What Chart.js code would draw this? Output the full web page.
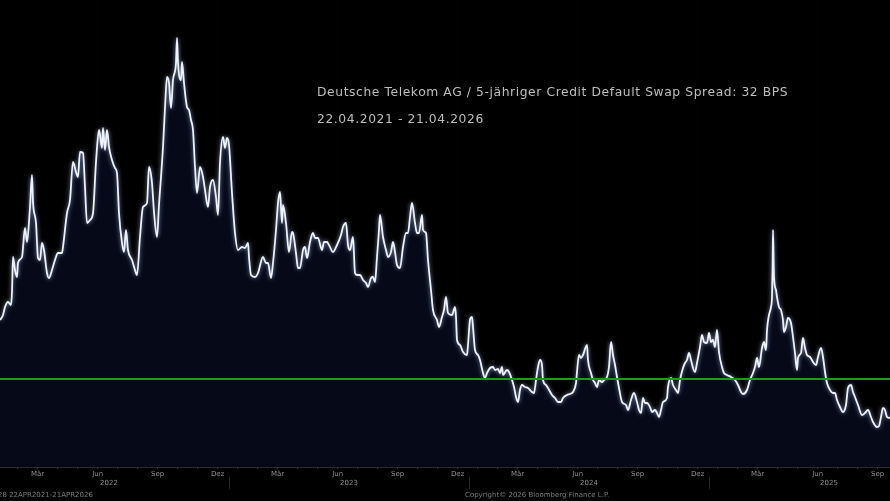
<!DOCTYPE html>
<html>
<head>
<meta charset="utf-8">
<script src="https://cdn.jsdelivr.net/npm/chart.js@4.4.1/dist/chart.umd.min.js"></script>
<style>
  html, body { margin: 0; padding: 0; background: #000; }
  #wrap { width: 890px; height: 501px; position: relative; background: #000; }
  canvas { display: block; }
</style>
</head>
<body>
<div id="wrap"><canvas id="c" width="890" height="501"></canvas></div>
<script>
// ---- Data (x = months since 1 Jan 2022, y = spread in bps) ----
const monthsA = [0.55,0.70,0.80,0.95,1.10,1.15,1.20,1.30,1.40,1.45,
  1.65,1.80,1.90,2.05,2.15,2.20,2.35,2.45,2.55,2.65,
  2.75,2.90,3.00,3.15,3.30,3.45,3.65,3.70,3.90,4.05,
  4.20,4.35,4.45,4.55,4.70,4.80,4.90,5.05,5.20,5.35,
  5.50,5.65,5.70,5.80,5.90,6.00,6.15,6.30,6.40,6.50,
  6.65,6.75,6.85,6.95,7.15,7.30,7.40,7.55,7.70,7.90,
  8.00,8.15,8.25,8.40,8.50];
const spreadA = [43.8,44.8,46.4,47.4,46.8,49.4,56.4,53.8,52.4,55.2,
  56.4,62.2,59.4,66.4,72.8,67.4,63.2,56.2,55.8,59.2,
  57.8,53.2,52.2,53.8,55.8,57.2,57.2,58.4,65.2,67.8,
  75.4,73.4,72.4,77.4,77.2,70.4,63.2,63.8,65.2,75.4,
  81.8,78.2,82.2,77.8,81.8,78.4,75.8,74.2,73.2,65.2,
  59.2,57.4,61.8,57.8,55.8,53.8,52.8,60.4,66.4,67.2,
  74.4,71.2,65.4,60.4,66.8];

const monthsB = [8.70,8.80,8.90,9.00,9.10,9.20,9.35,9.40,9.45,9.60,
  9.65,9.75,9.90,10.00,10.10,10.20,10.30,10.40,10.55,10.70,
  10.80,10.95,11.05,11.20,11.35,11.45,11.55,11.70,11.80,11.90,
  12.00,12.15,12.30,12.45,12.65,12.80,12.95,13.00,13.10,13.30,
  13.45,13.70,13.85,13.95,14.10,14.20,14.35,14.45,14.55,14.65,
  14.70,14.85,15.00,15.15,15.20,15.35,15.45];
const spreadB = [78.4,86.2,92.4,91.2,86.2,91.8,95.2,100.2,95.2,91.8,
  95.4,91.2,86.4,85.8,83.8,81.8,74.4,69.2,74.4,72.4,
  69.8,66.4,70.4,71.8,68.4,64.8,75.2,80.4,78.2,80.2,
  78.8,69.2,61.2,57.8,58.4,58.2,59.2,56.4,52.8,52.4,
  53.2,56.4,55.2,55.2,52.2,55.2,61.8,67.2,69.4,63.2,
  66.8,63.2,57.4,61.4,61.2,57.2,54.2];

const monthsC = [15.55,15.70,15.80,15.90,16.05,16.20,16.30,16.45,16.65,16.75,
  16.90,17.00,17.20,17.40,17.60,17.70,17.85,17.95,18.05,18.20,
  18.30,18.40,18.55,18.70,18.85,18.95,19.10,19.20,19.30,19.40,
  19.50,19.55,19.70,19.85,19.95,20.10,20.20,20.30,20.40,20.55,
  20.70,20.85,20.95,21.05,21.15,21.30,21.40,21.50,21.65,21.70,
  21.85,21.95,22.10,22.20,22.40,22.50,22.65,22.75,22.85,22.95,
  23.15,23.30,23.35,23.40,23.55,23.70,23.90];
const spreadC = [54.2,57.8,58.4,56.2,59.4,61.2,60.2,60.2,57.8,59.4,
  59.4,58.8,57.4,58.8,60.8,62.4,63.2,58.8,57.8,60.4,
  53.2,52.8,52.8,51.8,51.2,50.4,52.2,52.4,51.4,56.4,
  61.8,64.8,60.4,57.8,56.4,57.4,59.4,57.4,54.8,54.2,
  58.4,61.2,61.2,64.4,67.2,63.2,61.2,61.2,64.8,61.8,
  61.2,55.8,49.8,45.8,43.8,42.4,44.4,45.8,48.4,45.2,
  44.8,46.4,44.4,39.8,38.8,37.4,36.8];

const monthsD = [23.95,24.05,24.15,24.20,24.30,24.45,24.55,24.70,24.80,24.90,
  25.05,25.20,25.30,25.45,25.55,25.65,25.70,25.90,26.00,26.15,
  26.25,26.35,26.45,26.55,26.65,26.80,26.95,27.15,27.25,27.35,
  27.45,27.55,27.65,27.70,27.85,27.95,28.15,28.30,28.45,28.60,
  28.70,28.90,29.05,29.20,29.35,29.40,29.50,29.60,29.70,29.90,
  29.95,30.10,30.20,30.30,30.40,30.50,30.65,30.75,30.90,31.00,
  31.10,31.20,31.30,31.40,31.50];
const spreadD = [38.8,43.8,44.4,42.4,37.8,36.8,35.8,33.2,32.2,33.2,
  34.2,34.4,33.8,34.0,33.2,34.4,32.8,33.8,33.4,31.8,
  30.4,28.4,27.4,29.8,30.8,30.4,30.2,29.4,29.2,31.8,
  34.4,35.8,34.8,31.8,30.8,30.2,28.8,28.2,27.4,27.4,
  28.2,28.8,29.0,29.4,31.2,33.4,36.8,36.2,36.8,38.8,
  35.8,33.2,31.8,31.2,30.4,31.8,31.4,31.8,32.4,34.4,
  39.4,36.8,34.8,32.4,30.2];

const monthsE = [31.65,31.85,31.95,32.10,32.25,32.40,32.50,32.60,32.70,32.80,
  32.90,33.05,33.15,33.30,33.40,33.50,33.60,33.70,33.90,33.95,
  34.10,34.20,34.35,34.45,34.55,34.70,34.80,34.90,35.00,35.10,
  35.20,35.30,35.40,35.55,35.65,35.75,35.90,36.00,36.10,36.20,
  36.30,36.40,36.50,36.65,36.75,36.90,37.10,37.30,37.45,37.60,
  37.70,37.90,38.05,38.20,38.30,38.40,38.50,38.65,38.75,38.85,
  38.90,39.00,39.10,39.15,39.18,39.20,39.25,39.35,39.40,39.50];
const spreadE = [27.4,26.8,25.8,27.8,29.2,27.4,25.8,25.2,28.2,27.2,
  27.2,26.4,25.4,25.8,25.2,24.4,25.8,27.4,28.2,30.4,
  32.2,30.8,29.8,29.2,31.8,34.2,35.2,35.8,37.2,35.8,
  34.2,33.4,35.2,38.4,40.8,39.4,39.2,41.2,39.4,39.8,
  38.4,41.8,37.4,34.4,33.2,32.8,32.4,31.8,30.8,29.4,
  29.0,29.8,31.8,33.2,34.4,36.2,34.4,38.2,39.4,37.8,
  41.8,44.8,46.4,48.4,54.4,61.8,52.4,49.8,48.4,46.4];

const monthsF = [39.60,39.70,39.75,39.85,39.95,40.10,40.20,40.30,40.40,40.45,
  40.60,40.70,40.80,40.90,41.05,41.20,41.35,41.45,41.60,41.70,
  41.80,41.90,42.05,42.20,42.30,42.40,42.55,42.70,42.85,42.95,
  43.10,43.20,43.30,43.45,43.65,43.80,43.95,44.10,44.20,44.40,
  44.50,44.60,44.70,44.80,44.90,45.05];
const spreadF = [45.8,43.8,41.4,42.4,44.2,43.2,40.4,37.2,33.8,36.2,
  37.2,40.2,38.2,36.8,36.4,35.4,34.8,36.4,38.2,36.4,
  33.4,31.2,29.8,29.2,29.2,27.8,26.4,25.4,26.8,30.2,
  30.8,29.4,28.4,26.8,24.8,25.2,25.8,24.4,23.4,22.4,
  22.6,24.4,26.2,25.8,24.4,24.2];

const referenceLevel = 32;               // green horizontal line (bps)
const monthNames = ['Jan','Feb','Mär','Apr','Mai','Jun','Jul','Aug','Sep','Okt','Nov','Dez'];
const yearLabels = ['2022','2023','2024','2025'];
const titleText = 'Deutsche Telekom AG / 5-jähriger Credit Default Swap Spread: 32 BPS';
const subtitleText = '22.04.2021 - 21.04.2026';
const footerLeft = '28 22APR2021-21APR2026';
const footerRight = 'Copyright\u00A9 2026 Bloomberg Finance L.P.';

// ---- Build series ----
const allMonths = [].concat(monthsA, monthsB, monthsC, monthsD, monthsE, monthsF);
const allSpread = [].concat(spreadA, spreadB, spreadC, spreadD, spreadE, spreadF);
const seriesPoints = allMonths.map((m, i) => ({ x: m, y: allSpread[i] }));
const X_MIN = 0.55, X_MAX = 45.05;
const refPoints = [{ x: X_MIN, y: referenceLevel }, { x: X_MAX, y: referenceLevel }];

const decoPlugin = {
  id: 'deco',
  beforeDraw(chart) {
    const ctx = chart.ctx;
    ctx.save();
    ctx.fillStyle = '#000';
    ctx.fillRect(0, 0, chart.width, chart.height);
    ctx.restore();
  },
  beforeDatasetDraw(chart, args) {
    if (args.index === 1) {
      const ctx = chart.ctx;
      ctx.save();
      ctx.shadowColor = 'rgba(170,190,240,0.8)';
      ctx.shadowBlur = 4;
    }
  },
  afterDatasetDraw(chart, args) {
    if (args.index === 1) chart.ctx.restore();
  },
  afterDraw(chart) {
    const ctx = chart.ctx;
    const xs = chart.scales.x;
    ctx.save();
    // year separators
    ctx.strokeStyle = '#262626';
    ctx.lineWidth = 1;
    yearLabels.forEach((y, i) => {
      const v = 12 * (i + 1);
      if (v > X_MIN && v < X_MAX) {
        const px = Math.round(xs.getPixelForValue(v)) + 0.5;
        ctx.beginPath();
        ctx.moveTo(px, 477);
        ctx.lineTo(px, 489);
        ctx.stroke();
      }
    });
    // titles
    ctx.fillStyle = '#bdbdbd';
    ctx.textBaseline = 'middle';
    ctx.textAlign = 'left';
    ctx.font = '12.3px "DejaVu Sans"';
    if ('letterSpacing' in ctx) ctx.letterSpacing = '0.6px';
    ctx.fillText(titleText, 317, 93);
    ctx.fillText(subtitleText, 317, 120);
    if ('letterSpacing' in ctx) ctx.letterSpacing = '0px';
    // footer
    ctx.fillStyle = '#7c7c7c';
    ctx.font = '7px "DejaVu Sans"';
    ctx.fillText(footerLeft, -2, 495);
    ctx.fillText(footerRight, 465, 495);
    ctx.restore();
  }
};

new Chart(document.getElementById('c'), {
  type: 'line',
  data: {
    datasets: [
      {
        data: refPoints,
        borderColor: '#1f9a1f',
        borderWidth: 2,
        pointRadius: 0,
        fill: false,
        order: 0
      },
      {
        data: seriesPoints,
        borderColor: '#eef2fa',
        borderWidth: 1.8,
        pointRadius: 0,
        cubicInterpolationMode: 'monotone',
        fill: 'start',
        backgroundColor: '#060a18',
        order: 1
      }
    ]
  },
  options: {
    responsive: false,
    animation: false,
    events: [],
    layout: { padding: 0 },
    plugins: { legend: { display: false }, tooltip: { enabled: false } },
    scales: {
      y: { display: false, min: 14.4, max: 107.8 },
      x: {
        type: 'linear',
        min: X_MIN,
        max: X_MAX,
        afterFit(scale) { scale.height = 34; },
        afterBuildTicks(scale) {
          const t = [];
          for (let m = 1; m <= 44; m++) {
            const isQ = (m % 3) === 2;
            t.push({ value: m + 0.43, kind: isQ ? 'q' : 'm', lbl: isQ ? monthNames[m % 12] : '' });
          }
          yearLabels.forEach((y, i) => t.push({ value: 6 + 12 * i, kind: 'y', lbl: y }));
          t.sort((a, b) => a.value - b.value);
          scale.ticks = t;
        },
        ticks: {
          autoSkip: false,
          maxRotation: 0,
          minRotation: 0,
          padding: 0,
          color: '#8e8e8e',
          font: { family: 'DejaVu Sans', size: 7, lineHeight: 1.35 },
          callback(value, index, ticks) {
            const tk = ticks[index];
            if (!tk) return '';
            if (tk.kind === 'y') return ['', tk.lbl];
            return tk.lbl;
          }
        },
        grid: {
          drawOnChartArea: true,
          color: (c) => (c.tick && c.tick.kind === 'q') ? 'rgba(255,255,255,0.02)' : 'rgba(0,0,0,0)',
          tickColor: (c) => (c.tick && c.tick.kind === 'y') ? 'rgba(0,0,0,0)' : '#3a3a3a',
          tickLength: 2
        },
        border: { display: true, color: '#2a2a2a', dash: [2, 2], width: 1 }
      }
    }
  },
  plugins: [decoPlugin]
});
</script>
</body>
</html>
